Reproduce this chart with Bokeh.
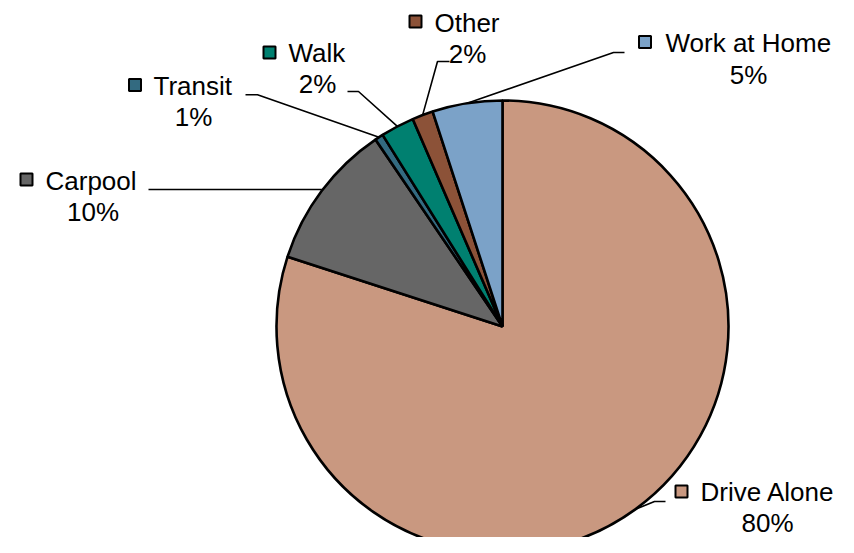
import numpy as np
from bokeh.plotting import figure
from bokeh.models import Range1d, ColumnDataSource
from bokeh.embed import file_html
from bokeh.resources import INLINE
from bokeh.core.properties import value

# ---- data ----
modes = ["Drive Alone", "Carpool", "Transit", "Walk", "Other", "Work at Home"]
shares = [80.0, 10.5, 0.6, 2.4, 1.5, 5.0]
pct_labels = ["80%", "10%", "1%", "2%", "2%", "5%"]
colors = ["#C99880", "#666666", "#336A80", "#008070", "#8C5238", "#7BA2C8"]

# ---- layout (pixel coords of the picture, y downward) ----
FIG_W, FIG_H = 838, 537
TEXT_DY = 9  # compensation: rendered baseline sits lower than requested
cx, cy, R = 502, 326, 226
key_pos = [(681, 491), (26, 179), (134.5, 84.5), (269, 52), (415, 21), (644.5, 41.5)]
name_pos = [(700, 500), (45, 189), (153, 94.3), (288, 61.7), (434, 31.7), (665, 51.7)]
pct_pos = [(767, 531), (92.5, 220), (193, 125), (317, 92.7), (467, 62), (748, 83.3)]
elbow = [[(654, 501), (665, 501)], [(148, 189)], [(257, 94.3), (245, 94.3)],
         [(358, 91), (347, 91)], [(437, 61), (449, 61)], [(613, 52), (624, 52)]]

def fy(py):
    return FIG_H - py

vals = np.array(shares, dtype=float)
frac = vals / vals.sum()
cum = np.cumsum(frac)
th_start = 360 * (cum - frac)
th_end = 360 * cum
th_mid = (th_start + th_end) / 2

src = ColumnDataSource(dict(
    start=np.radians(90 - th_end),
    end=np.radians(90 - th_start),
    color=colors,
    mode=modes,
))

p = figure(width=FIG_W, height=FIG_H, x_range=Range1d(0, FIG_W), y_range=Range1d(0, FIG_H),
           output_backend="svg", toolbar_location=None, min_border=0,
           x_axis_location=None, y_axis_location=None)
p.grid.visible = False
p.outline_line_color = None

p.wedge(x=cx, y=fy(cy), radius=R, start_angle="start", end_angle="end",
        direction="anticlock", fill_color="color", line_color="black",
        line_width=2.6, source=src)

# leader lines
xs, ys = [], []
for i, th in enumerate(th_mid):
    t = np.radians(th)
    ax = cx + R * np.sin(t)
    ay = cy - R * np.cos(t)
    pts = [(ax, ay)]
    if i == 1:
        pts = [(ax, elbow[i][0][1]), elbow[i][0]]
    else:
        pts += elbow[i]
    xs.append([q[0] for q in pts])
    ys.append([fy(q[1]) for q in pts])
p.multi_line(xs=xs, ys=ys, line_color="black", line_width=1.6)

# legend keys
p.rect(x=[k[0] for k in key_pos], y=[fy(k[1]) for k in key_pos], width=12, height=12,
       fill_color=colors, line_color="black", line_width=2)

font = value("Liberation Sans")
p.text(x=[n[0] for n in name_pos], y=[fy(n[1] - TEXT_DY) for n in name_pos], text=modes,
       text_font=font, text_font_size="26px", text_color="black",
       text_align="left", text_baseline="alphabetic")
p.text(x=[n[0] for n in pct_pos], y=[fy(n[1] - TEXT_DY) for n in pct_pos], text=pct_labels,
       text_font=font, text_font_size="26px", text_color="black",
       text_align="center", text_baseline="alphabetic")

open("out.html", "w").write(file_html(p, INLINE))
